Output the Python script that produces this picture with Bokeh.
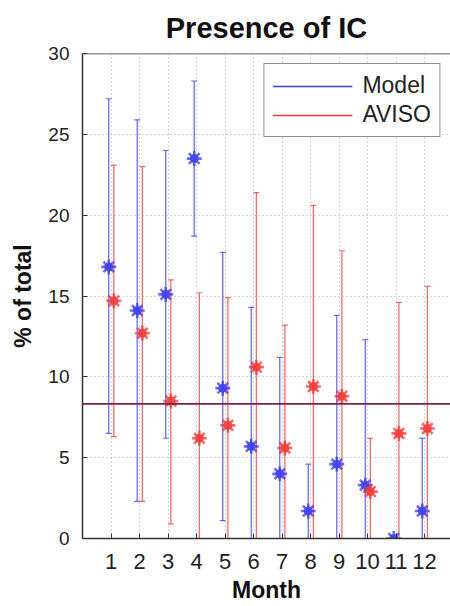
from bokeh.plotting import figure
from bokeh.models import (Range1d, FixedTicker, Whisker, ColumnDataSource,
                          Span, Legend, LegendItem, TeeHead)
from bokeh.transform import dodge
from bokeh.embed import file_html
from bokeh.resources import INLINE

months = [1, 2, 3, 4, 5, 6, 7, 8, 9, 10, 11, 12]
model_mean = [16.8, 14.1, 15.1, 23.5, 9.3, 5.7, 4.0, 1.7, 4.6, 3.3, 0.0, 1.7]
model_upper = [27.2, 25.9, 24.0, 28.3, 17.7, 14.3, 11.2, 4.6, 13.8, 12.3, 0.0, 6.2]
model_lower = [6.5, 2.3, 6.2, 18.7, 1.1, 0.0, 0.0, 0.0, 0.0, 0.0, 0.0, 0.0]
aviso_mean = [14.7, 12.7, 8.5, 6.2, 7.0, 10.6, 5.6, 9.4, 8.8, 2.9, 6.5, 6.8]
aviso_upper = [23.1, 23.0, 16.0, 15.2, 14.9, 21.4, 13.2, 20.6, 17.8, 6.2, 14.6, 15.6]
aviso_lower = [6.3, 2.3, 0.9, 0.0, 0.0, 0.0, 0.0, 0.0, 0.0, 0.0, 0.0, 0.0]
overall_mean = 8.33
y_ticks = [0, 5, 10, 15, 20, 25, 30]

BLUE = "#3c3ce8"
RED = "#f03a3a"
FONT = "Liberation Sans"

p = figure(width=450, height=606, x_range=Range1d(0, 12.91), y_range=Range1d(0, 30),
           output_backend="svg", toolbar_location=None,
           min_border_left=82, min_border_right=0, min_border_top=52, min_border_bottom=68)
p.outline_line_color = None
p.background_fill_color = "white"

p.title.text = "Presence of IC"
p.title.text_font = FONT
p.title.text_font_size = "29px"
p.title.text_font_style = "bold"
p.title.align = "center"
p.title.text_color = "#111111"
p.title.standoff = 19

# axes
xax = p.xaxis[0]
xax.ticker = FixedTicker(ticks=months)
xax.axis_label = "Month"
xax.major_label_text_font_size = "22px"
xax.major_label_standoff = 15
xax.axis_label_text_font_size = "23px"
xax.axis_label_text_font_style = "bold"
xax.axis_label_standoff = 5

yax = p.yaxis[0]
yax.ticker = FixedTicker(ticks=y_ticks)
yax.axis_label = "% of total"
yax.major_label_text_font_size = "19px"
yax.major_label_standoff = 13
yax.axis_label_text_font_size = "23px"
yax.axis_label_text_font_style = "bold"
yax.axis_label_standoff = 9

for ax in (xax, yax):
    ax.major_label_text_font = FONT
    ax.axis_label_text_font = FONT
    ax.major_label_text_color = "#222222"
    ax.axis_label_text_color = "#111111"
    ax.axis_line_color = "#333333"
    ax.axis_line_width = 1.5
    ax.major_tick_in = 5
    ax.major_tick_out = 0
    ax.major_tick_line_color = "#333333"
    ax.minor_tick_line_color = None

# top border line of the box
p.add_layout(Span(location=30, dimension="width", line_color="#333333", line_width=1.5))

p.grid.grid_line_color = "#aaaaaa"
p.grid.grid_line_dash = "1 3"
p.grid.grid_line_width = 1

# mean line
p.add_layout(Span(location=overall_mean, dimension="width", line_color="#7a2050", line_width=1.6))

src_m = ColumnDataSource(dict(x=months, mean=model_mean, upper=model_upper, lower=model_lower))
src_a = ColumnDataSource(dict(x=months, mean=aviso_mean, upper=aviso_upper, lower=aviso_lower))

for src, col, off in ((src_m, BLUE, -0.08), (src_a, RED, 0.1)):
    w = Whisker(source=src, base=dodge("x", off, range=p.x_range), upper="upper", lower="lower",
                line_color=col, line_width=1.3, line_alpha=0.75,
                upper_head=TeeHead(size=6, line_color=col, line_width=1.2, line_alpha=0.75),
                lower_head=TeeHead(size=6, line_color=col, line_width=1.2, line_alpha=0.75))
    p.add_layout(w)
    p.scatter(dodge("x", off, range=p.x_range), "mean", source=src, marker="circle", size=9,
              fill_color=col, line_color=None, fill_alpha=0.75)
    p.scatter(dodge("x", off, range=p.x_range), "mean", source=src, marker="asterisk", size=15,
              line_color=col, line_width=2.6, line_alpha=0.75)

# legend-only line renderers (data lies outside the visible ranges)
r_m = p.line([-10, -9], [-10, -9], line_color=BLUE, line_width=1.5)
r_a = p.line([-10, -9], [-10, -9], line_color=RED, line_width=1.5)
legend = Legend(items=[LegendItem(label="Model", renderers=[r_m]),
                       LegendItem(label="AVISO", renderers=[r_a])],
                location="top_right", margin=10, padding=8, spacing=2,
                glyph_width=80, glyph_height=24, label_standoff=10,
                label_text_font=FONT, label_text_font_size="23px", label_text_color="#222222",
                border_line_color="#222222", border_line_width=1.3,
                background_fill_color="white", background_fill_alpha=1)
p.add_layout(legend)

open("out.html", "w").write(file_html(p, INLINE))
